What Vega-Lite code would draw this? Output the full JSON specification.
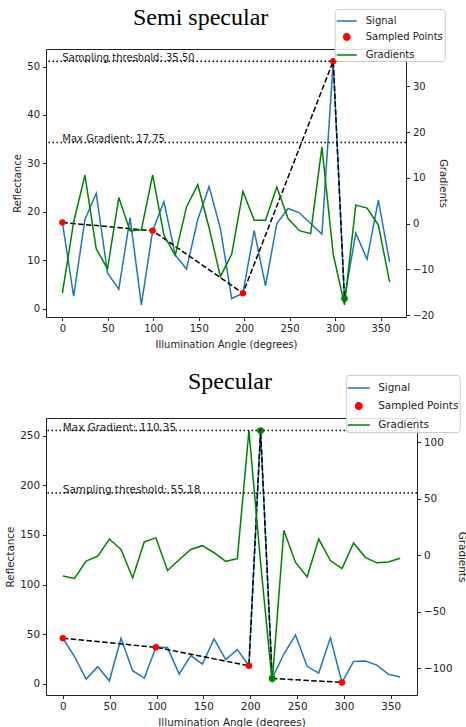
{
  "$schema": "https://vega.github.io/schema/vega-lite/v6.json",
  "padding": {"left": 5, "top": 5, "right": 0, "bottom": 0},
  "background": "white",
  "spacing": 19,
  "resolve": {"scale": {"color": "independent"}, "legend": {"color": "independent"}},
  "config": {
    "font": "DejaVu Sans",
    "view": {"stroke": "#222", "strokeWidth": 1},
    "axis": {"grid": false, "domain": false, "tickColor": "#222", "tickSize": 3.5, "labelFontSize": 10, "labelColor": "#222", "titleFontSize": 10, "titleFontWeight": "normal", "titleColor": "#222", "labelPadding": 3, "titlePadding": 4, "labelFont": "DejaVu Sans", "titleFont": "DejaVu Sans"},
    "axisX": {"titlePadding": 6},
    "title": {"font": "Liberation Serif", "fontSize": 24, "fontWeight": "normal", "color": "black", "anchor": "start", "frame": "group"}
  },
  "datasets": {
    "semi": [
      {"angle": 0, "signal": 17.8, "gradient": -15.2, "pt": "sampled"},
      {"angle": 12.41, "signal": 2.6, "gradient": 0.3, "pt": null},
      {"angle": 24.83, "signal": 18.4, "gradient": 10.6, "pt": null},
      {"angle": 37.24, "signal": 23.8, "gradient": -5.5, "pt": null},
      {"angle": 49.66, "signal": 7.4, "gradient": -9.9, "pt": null},
      {"angle": 62.07, "signal": 4.0, "gradient": 5.7, "pt": null},
      {"angle": 74.48, "signal": 18.8, "gradient": -1.6, "pt": null},
      {"angle": 86.9, "signal": 0.8, "gradient": -1.35, "pt": null},
      {"angle": 99.31, "signal": 16.1, "gradient": 10.65, "pt": "sampled"},
      {"angle": 111.72, "signal": 22.1, "gradient": -2.5, "pt": null},
      {"angle": 124.14, "signal": 11.1, "gradient": -6.95, "pt": null},
      {"angle": 136.55, "signal": 8.2, "gradient": 3.65, "pt": null},
      {"angle": 148.97, "signal": 18.4, "gradient": 8.5, "pt": null},
      {"angle": 161.38, "signal": 25.2, "gradient": -0.9, "pt": null},
      {"angle": 173.79, "signal": 16.6, "gradient": -11.55, "pt": null},
      {"angle": 186.21, "signal": 2.1, "gradient": -6.7, "pt": null},
      {"angle": 198.62, "signal": 3.2, "gradient": 7.0, "pt": "sampled"},
      {"angle": 211.03, "signal": 16.1, "gradient": 0.75, "pt": null},
      {"angle": 223.45, "signal": 4.7, "gradient": 0.75, "pt": null},
      {"angle": 235.86, "signal": 17.6, "gradient": 8.0, "pt": null},
      {"angle": 248.28, "signal": 20.7, "gradient": 1.1, "pt": null},
      {"angle": 260.69, "signal": 19.8, "gradient": -1.55, "pt": null},
      {"angle": 273.1, "signal": 17.6, "gradient": -2.2, "pt": null},
      {"angle": 285.52, "signal": 15.4, "gradient": 16.75, "pt": null},
      {"angle": 297.93, "signal": 51.1, "gradient": -6.65, "pt": "sampled"},
      {"angle": 310.34, "signal": 2.1, "gradient": -17.75, "pt": "peak"},
      {"angle": 322.76, "signal": 15.6, "gradient": 4.05, "pt": null},
      {"angle": 335.17, "signal": 10.2, "gradient": 3.4, "pt": null},
      {"angle": 347.59, "signal": 22.4, "gradient": -0.3, "pt": null},
      {"angle": 360, "signal": 9.6, "gradient": -12.8, "pt": null}
    ],
    "semiThr": [
      {"label": "Sampling threshold: 35.50", "value": 35.5},
      {"label": "Max Gradient: 17.75", "value": 17.75}
    ],
    "spec": [
      {"angle": 0, "signal": 45.9, "gradient": -18.4, "pt": "sampled"},
      {"angle": 12.41, "signal": 27.5, "gradient": -20.6, "pt": null},
      {"angle": 24.83, "signal": 4.7, "gradient": -5.15, "pt": null},
      {"angle": 37.24, "signal": 17.2, "gradient": -0.85, "pt": null},
      {"angle": 49.66, "signal": 3.0, "gradient": 14.35, "pt": null},
      {"angle": 62.07, "signal": 45.9, "gradient": 5.1, "pt": null},
      {"angle": 74.48, "signal": 13.2, "gradient": -20.1, "pt": null},
      {"angle": 86.9, "signal": 5.7, "gradient": 11.8, "pt": null},
      {"angle": 99.31, "signal": 36.8, "gradient": 15.4, "pt": "sampled"},
      {"angle": 111.72, "signal": 36.5, "gradient": -13.5, "pt": null},
      {"angle": 124.14, "signal": 9.8, "gradient": -4.05, "pt": null},
      {"angle": 136.55, "signal": 28.4, "gradient": 5.05, "pt": null},
      {"angle": 148.97, "signal": 19.9, "gradient": 8.45, "pt": null},
      {"angle": 161.38, "signal": 45.3, "gradient": 2.2, "pt": null},
      {"angle": 173.79, "signal": 24.3, "gradient": -5.4, "pt": null},
      {"angle": 186.21, "signal": 34.5, "gradient": -3.05, "pt": null},
      {"angle": 198.62, "signal": 18.2, "gradient": 110.35, "pt": "sampled"},
      {"angle": 211.03, "signal": 255.2, "gradient": -6.4, "pt": "peak"},
      {"angle": 223.45, "signal": 5.4, "gradient": -112.6, "pt": "peak"},
      {"angle": 235.86, "signal": 30.0, "gradient": 21.95, "pt": null},
      {"angle": 248.28, "signal": 49.3, "gradient": -6.2, "pt": null},
      {"angle": 260.69, "signal": 17.6, "gradient": -19.25, "pt": null},
      {"angle": 273.1, "signal": 10.8, "gradient": 14.35, "pt": null},
      {"angle": 285.52, "signal": 46.3, "gradient": -4.7, "pt": null},
      {"angle": 297.93, "signal": 1.4, "gradient": -11.85, "pt": "sampled"},
      {"angle": 310.34, "signal": 22.6, "gradient": 10.8, "pt": null},
      {"angle": 322.76, "signal": 23.0, "gradient": -1.85, "pt": null},
      {"angle": 335.17, "signal": 18.9, "gradient": -6.75, "pt": null},
      {"angle": 347.59, "signal": 9.5, "gradient": -6.05, "pt": null},
      {"angle": 360, "signal": 6.8, "gradient": -2.7, "pt": null}
    ],
    "specThr": [
      {"label": "Max Gradient: 110.35", "value": 110.35},
      {"label": "Sampling threshold: 55.18", "value": 55.18}
    ]
  },
  "vconcat": [
    {
      "width": 360,
      "height": 268,
      "title": {"text": "Semi specular", "dx": 87, "offset": -21},
      "layer": [
        {
          "data": {"name": "semi"},
          "layer": [
            {
              "mark": {"type": "line", "strokeWidth": 1.5},
              "encoding": {
                "x": {"field": "angle", "type": "quantitative", "scale": {"domain": [-18, 378], "nice": false, "zero": false}, "axis": {"title": "Illumination Angle (degrees)", "values": [0, 50, 100, 150, 200, 250, 300, 350]}},
                "y": {"field": "signal", "type": "quantitative", "scale": {"domain": [-1.715, 53.615], "nice": false, "zero": false}, "axis": {"title": "Reflectance", "values": [0, 10, 20, 30, 40, 50]}},
                "color": {"datum": "Signal", "scale": {"domain": ["Signal", "Sampled Points", "Gradients"], "range": ["#1f77b4", "red", "green"]}, "legend": {"title": null, "orient": "none", "legendX": 288.75, "legendY": -40, "padding": 1, "fillColor": "rgba(255,255,255,0.85)", "strokeColor": "#cccccc", "cornerRadius": 3, "labelFontSize": 10, "labelColor": "#222", "labelFont": "DejaVu Sans", "rowPadding": -5, "labelOffset": 8, "symbolSize": 400, "symbolType": "stroke", "symbolStrokeWidth": 1.5,
                  "encode": {"symbols": {"update": {
                    "shape": {"signal": "datum.value === 'Sampled Points' ? 'circle' : 'stroke'"},
                    "size": {"signal": "datum.value === 'Sampled Points' ? 40 : 400"},
                    "fill": {"signal": "datum.value === 'Sampled Points' ? 'red' : 'transparent'"},
                    "stroke": {"signal": "datum.value === 'Sampled Points' ? 'transparent' : (datum.value === 'Signal' ? '#1f77b4' : 'green')"},
                    "strokeWidth": {"value": 1.5},
                    "opacity": {"value": 1}
                  }}}}}
              }
            },
            {
              "transform": [{"filter": "datum.pt != null"}],
              "mark": {"type": "line", "color": "black", "strokeWidth": 1.5, "strokeDash": [5.5, 2.4]},
              "encoding": {
                "x": {"field": "angle", "type": "quantitative"},
                "y": {"field": "signal", "type": "quantitative"}
              }
            },
            {
              "transform": [{"filter": "datum.pt === 'sampled'"}],
              "mark": {"type": "circle", "size": 40, "opacity": 1},
              "encoding": {
                "x": {"field": "angle", "type": "quantitative"},
                "y": {"field": "signal", "type": "quantitative"},
                "color": {"datum": "Sampled Points"}
              }
            },
            {
              "transform": [{"filter": "datum.pt === 'peak'"}],
              "mark": {"type": "circle", "size": 45, "opacity": 1, "color": "green"},
              "encoding": {
                "x": {"field": "angle", "type": "quantitative"},
                "y": {"field": "signal", "type": "quantitative"}
              }
            }
          ]
        },
        {
          "layer": [
            {
              "data": {"name": "semi"},
              "mark": {"type": "line", "strokeWidth": 1.5},
              "encoding": {
                "x": {"field": "angle", "type": "quantitative"},
                "y": {"field": "gradient", "type": "quantitative", "scale": {"domain": [-20.41, 38.16], "nice": false, "zero": false}, "axis": {"orient": "right", "title": "Gradients", "values": [-20, -10, 0, 10, 20, 30]}},
                "color": {"datum": "Gradients"}
              }
            },
            {
              "data": {"name": "semiThr"},
              "mark": {"type": "rule", "color": "black", "strokeWidth": 1.5, "strokeDash": [1.5, 2.5]},
              "encoding": {"y": {"field": "value", "type": "quantitative", "axis": {"orient": "right", "title": "Gradients"}}}
            },
            {
              "data": {"name": "semiThr"},
              "mark": {"type": "text", "align": "left", "baseline": "alphabetic", "fontSize": 10, "color": "#222"},
              "encoding": {
                "x": {"datum": 0, "type": "quantitative"},
                "y": {"field": "value", "type": "quantitative", "axis": {"orient": "right", "title": "Gradients"}},
                "text": {"field": "label"}
              }
            }
          ]
        }
      ],
      "resolve": {"scale": {"y": "independent"}}
    },
    {
      "width": 371,
      "height": 277,
      "title": {"text": "Specular", "dx": 142, "offset": -19},
      "layer": [
        {
          "data": {"name": "spec"},
          "layer": [
            {
              "mark": {"type": "line", "strokeWidth": 1.5},
              "encoding": {
                "x": {"field": "angle", "type": "quantitative", "scale": {"domain": [-18, 378], "nice": false, "zero": false}, "axis": {"title": "Illumination Angle (degrees)", "values": [0, 50, 100, 150, 200, 250, 300, 350], "labelFontSize": 10.4, "titleFontSize": 10.4}},
                "y": {"field": "signal", "type": "quantitative", "scale": {"domain": [-11.29, 267.89], "nice": false, "zero": false}, "axis": {"title": "Reflectance", "values": [0, 50, 100, 150, 200, 250], "labelFontSize": 10.4, "titleFontSize": 10.4}},
                "color": {"datum": "Signal", "scale": {"domain": ["Signal", "Sampled Points", "Gradients"], "range": ["#1f77b4", "red", "green"]}, "legend": {"title": null, "orient": "none", "legendX": 299.75, "legendY": -43, "padding": 1, "fillColor": "rgba(255,255,255,0.85)", "strokeColor": "#cccccc", "cornerRadius": 3, "labelFontSize": 10.4, "labelColor": "#222", "labelFont": "DejaVu Sans", "rowPadding": -6, "labelOffset": 7.5, "symbolSize": 484, "symbolType": "stroke", "symbolStrokeWidth": 1.5,
                  "encode": {"symbols": {"update": {
                    "shape": {"signal": "datum.value === 'Sampled Points' ? 'circle' : 'stroke'"},
                    "size": {"signal": "datum.value === 'Sampled Points' ? 42 : 484"},
                    "fill": {"signal": "datum.value === 'Sampled Points' ? 'red' : 'transparent'"},
                    "stroke": {"signal": "datum.value === 'Sampled Points' ? 'transparent' : (datum.value === 'Signal' ? '#1f77b4' : 'green')"},
                    "strokeWidth": {"value": 1.5},
                    "opacity": {"value": 1}
                  }}}}}
              }
            },
            {
              "transform": [{"filter": "datum.pt != null"}],
              "mark": {"type": "line", "color": "black", "strokeWidth": 1.5, "strokeDash": [5.5, 2.4]},
              "encoding": {
                "x": {"field": "angle", "type": "quantitative"},
                "y": {"field": "signal", "type": "quantitative"}
              }
            },
            {
              "transform": [{"filter": "datum.pt === 'sampled'"}],
              "mark": {"type": "circle", "size": 42, "opacity": 1},
              "encoding": {
                "x": {"field": "angle", "type": "quantitative"},
                "y": {"field": "signal", "type": "quantitative"},
                "color": {"datum": "Sampled Points"}
              }
            },
            {
              "transform": [{"filter": "datum.pt === 'peak'"}],
              "mark": {"type": "circle", "size": 48, "opacity": 1, "color": "green"},
              "encoding": {
                "x": {"field": "angle", "type": "quantitative"},
                "y": {"field": "signal", "type": "quantitative"}
              }
            }
          ]
        },
        {
          "layer": [
            {
              "data": {"name": "spec"},
              "mark": {"type": "line", "strokeWidth": 1.5},
              "encoding": {
                "x": {"field": "angle", "type": "quantitative"},
                "y": {"field": "gradient", "type": "quantitative", "scale": {"domain": [-123.75, 121.5], "nice": false, "zero": false}, "axis": {"orient": "right", "title": "Gradients", "values": [-100, -50, 0, 50, 100], "labelFontSize": 10.4, "titleFontSize": 10.4}},
                "color": {"datum": "Gradients"}
              }
            },
            {
              "data": {"name": "specThr"},
              "mark": {"type": "rule", "color": "black", "strokeWidth": 1.5, "strokeDash": [1.5, 2.5]},
              "encoding": {"y": {"field": "value", "type": "quantitative", "axis": {"orient": "right", "title": "Gradients"}}}
            },
            {
              "data": {"name": "specThr"},
              "mark": {"type": "text", "align": "left", "baseline": "alphabetic", "fontSize": 10.4, "color": "#222"},
              "encoding": {
                "x": {"datum": 0, "type": "quantitative"},
                "y": {"field": "value", "type": "quantitative", "axis": {"orient": "right", "title": "Gradients"}},
                "text": {"field": "label"}
              }
            }
          ]
        }
      ],
      "resolve": {"scale": {"y": "independent"}}
    }
  ]
}
